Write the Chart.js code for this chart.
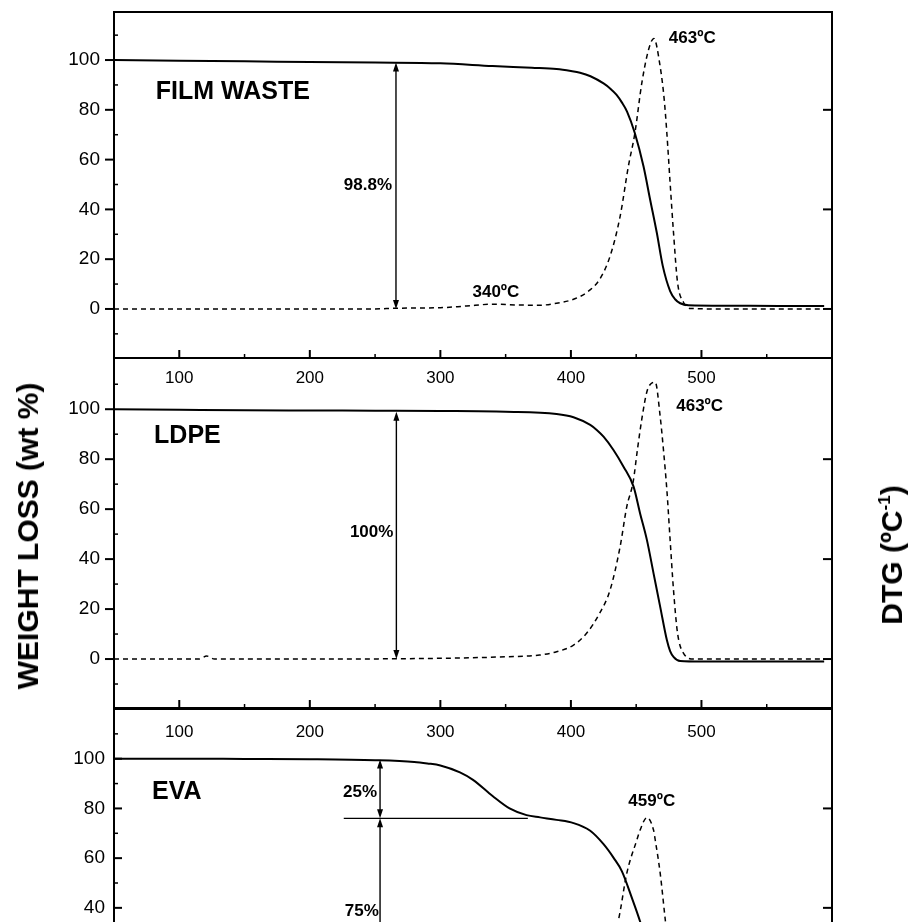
<!DOCTYPE html>
<html>
<head>
<meta charset="utf-8">
<title>TG / DTG</title>
<script src="https://cdn.jsdelivr.net/npm/chart.js@4.4.1/dist/chart.umd.min.js"></script>
<style>
  body { margin: 0; background: #fff; }
  #figure { position: relative; width: 910px; height: 922px; overflow: hidden; background: #fff; }
  #figure canvas { position: absolute; left: 0; }
  .axis-title {
    position: absolute;
    font: bold 30px 'Liberation Sans', Arial, sans-serif;
    line-height: 1;
    color: #000;
    white-space: nowrap;
    transform: translate(-50%, -50%) rotate(-90deg);
  }
  .axis-title sup { font-size: 17px; line-height: 0; vertical-align: 12px; }
</style>
</head>
<body>
<div id="figure">
  <canvas id="film" width="910" height="390" style="top:0"></canvas>
  <canvas id="ldpe" width="910" height="388" style="top:352px"></canvas>
  <canvas id="eva" width="910" height="386" style="top:703px"></canvas>
  <div class="axis-title" style="left:28px;top:536px">WEIGHT LOSS (wt %)</div>
  <div class="axis-title" style="left:892px;top:555px">DTG (ºC<sup>-1</sup>)</div>
</div>

<script>
const FONT = "'Liberation Sans', Arial, sans-serif";
Chart.defaults.font.family = FONT;
Chart.defaults.color = '#000';

// axes (temperature in ºC, weight in wt %)
const xTicks = [100, 200, 300, 400, 500];
const xMinorTicks = [150, 250, 350, 450, 550];
const yTicks = [0, 20, 40, 60, 80, 100];
const yMinorTicks = [-10, 10, 30, 50, 70, 90, 110];
const dtgTicks = [0, 40, 80];

// FILM WASTE
const filmTgT = [50, 100, 150, 200, 250, 300, 340, 370, 389, 400, 407, 415, 425, 430, 435, 439, 443, 449, 455.6, 460.7, 465.8, 470.4, 476, 480, 483.7, 490, 520, 560, 594];
const filmTg = [100, 99.7, 99.5, 99.2, 99.0, 98.7, 97.6, 96.9, 96.4, 95.6, 94.9, 93.5, 90.6, 88.6, 86.0, 83.0, 79.3, 70.6, 57.3, 43.9, 30.6, 17.2, 7.2, 3.8, 2.3, 1.5, 1.3, 1.2, 1.2];
const filmDtgT = [50, 150, 250, 266, 300, 320, 340, 360, 376, 389, 402, 412, 422, 430, 437.7, 444, 449, 454.3, 459.4, 463.5, 468.4, 471.5, 473.5, 476, 478.6, 481.7, 486.3, 491.4, 520, 594];
const filmDtg = [0, 0, 0, 0.3, 0.5, 1.2, 1.9, 1.6, 1.5, 2.3, 3.9, 6.6, 11.9, 21.2, 37.2, 57.3, 70.6, 90.7, 104, 108.7, 97.3, 84, 70.6, 50.6, 30.6, 10.6, 2.6, 0.2, 0, 0];

// LDPE
const ldpeTgT = [50, 100, 150, 200, 250, 300, 350, 389, 402, 414.8, 420, 425, 432.6, 440.3, 448, 453, 458.2, 463.3, 468.4, 473.5, 476, 478.6, 483.7, 500, 550, 594];
const ldpeTg = [100, 99.8, 99.6, 99.5, 99.4, 99.3, 99.0, 98.1, 96.8, 93.7, 91.6, 89, 83.7, 77, 69, 58.3, 47.7, 34.3, 20.9, 7.6, 3.2, 0.9, -0.8, -1.0, -1.0, -1.0];
const ldpeDtgT = [50, 115, 121, 127, 200, 300, 350, 376, 389, 402, 412, 422, 430, 437.7, 442.8, 447.7, 451, 454.3, 458.2, 461.5, 464.6, 468.4, 470.9, 473.5, 476, 478.6, 481.7, 486.3, 494, 540, 594];
const ldpeDtg = [0, 0, 1.2, 0, 0, 0.3, 0.9, 1.6, 2.9, 5.6, 10.3, 18.3, 27.6, 45, 61, 71, 84, 96, 107, 110.3, 110.8, 97, 83.7, 67.7, 47.7, 27.6, 10.3, 2.3, 0, 0, 0];

// EVA
const evaTgT = [50, 100, 150, 200, 250, 280, 290, 300, 315, 325, 340, 353, 366, 376.4, 389, 402, 414.8, 425, 432.6, 439, 446.7, 453, 460, 467, 475, 485, 500, 594];
const evaTg = [100, 100, 99.9, 99.8, 99.4, 98.7, 98.1, 97.3, 94.5, 91.5, 85.0, 80.0, 77.3, 76.4, 75.4, 74.1, 71.0, 65.6, 60.2, 54.8, 44.0, 34.5, 22, 10, 3, 1, 0.5, 0.5];
const evaDtgT = [50, 250, 300, 330, 345, 360, 380, 400, 420, 430, 436.4, 442.8, 450.5, 453, 458.2, 463.3, 464.6, 468.4, 472.3, 476, 480, 485, 495, 594];
const evaDtg = [0, 0, 3, 8, 10, 7, 3, 5, 14, 25, 35.1, 53.9, 67.3, 71.3, 76.3, 71.3, 67.3, 53.9, 35.1, 18, 6, 1, 0, 0];

function points(xs, ys) {
  return xs.map((x, i) => ({ x: x, y: ys[i] }));
}

function line(ctx, x1, y1, x2, y2) {
  ctx.beginPath();
  ctx.moveTo(x1, y1);
  ctx.lineTo(x2, y2);
  ctx.stroke();
}

function head(ctx, x, y, dir) {
  // dir -1 = pointing up, +1 = pointing down
  ctx.beginPath();
  ctx.moveTo(x, y);
  ctx.lineTo(x - 3, y - dir * 9);
  ctx.lineTo(x + 3, y - dir * 9);
  ctx.closePath();
  ctx.fill();
}

// no extra label padding, so the plot area lands where the layout says
function noPad(s) {
  s.paddingTop = 0;
  s.paddingBottom = 0;
  s.paddingLeft = 0;
  s.paddingRight = 0;
}

// frame, tick marks and annotations
const framePlugin = {
  id: 'frame',
  afterDraw(chart, args, opts) {
    const { ctx, chartArea: a, scales } = chart;
    const x = scales.x, y = scales.y, y2 = scales.y2;
    ctx.save();
    ctx.strokeStyle = '#000';
    ctx.fillStyle = '#000';

    ctx.lineWidth = 2;
    line(ctx, a.left - 1, a.top, a.right + 1, a.top);

    yTicks.forEach(v => {
      const p = y.getPixelForValue(v);
      if (opts.inward) line(ctx, a.left, p, a.left + 8, p);
      else line(ctx, a.left - 9, p, a.left, p);
    });
    xTicks.forEach(v => {
      const p = x.getPixelForValue(v);
      line(ctx, p, a.bottom - 8, p, a.bottom);
    });
    dtgTicks.forEach(v => {
      const p = y2.getPixelForValue(v);
      line(ctx, a.right - 9, p, a.right, p);
    });

    ctx.lineWidth = 1.5;
    yMinorTicks.forEach(v => {
      const p = y.getPixelForValue(v);
      line(ctx, a.left, p, a.left + 4, p);
    });
    xMinorTicks.forEach(v => {
      const p = x.getPixelForValue(v);
      line(ctx, p, a.bottom - 4, p, a.bottom);
    });

    // annotations in data coordinates
    const notes = opts.notes;
    ctx.lineWidth = 1.4;
    (notes.lines || []).forEach(l => {
      const py = y.getPixelForValue(l.y);
      line(ctx, x.getPixelForValue(l.x1), py, x.getPixelForValue(l.x2), py);
    });
    (notes.arrows || []).forEach(ar => {
      const px = x.getPixelForValue(ar.x);
      const top = y.getPixelForValue(ar.from);
      const bot = y.getPixelForValue(ar.to);
      line(ctx, px, top + 4, px, bot - 4);
      head(ctx, px, top, -1);
      head(ctx, px, bot, 1);
    });
    ctx.textBaseline = 'middle';
    (notes.texts || []).forEach(t => {
      ctx.font = 'bold ' + t.size + 'px ' + FONT;
      ctx.textAlign = t.align;
      ctx.fillText(t.text, x.getPixelForValue(t.x), y.getPixelForValue(t.y));
    });
    ctx.restore();
  }
};

function makePanel(id, cfg) {
  return new Chart(document.getElementById(id), {
    type: 'line',
    data: {
      datasets: [
        {
          label: 'DTG',
          data: cfg.dtg,
          yAxisID: 'y2',
          borderColor: '#000',
          borderWidth: 1.5,
          borderDash: [5, 4],
          pointRadius: 0,
          fill: false,
          cubicInterpolationMode: 'monotone'
        },
        {
          label: 'TG',
          data: cfg.tg,
          yAxisID: 'y',
          borderColor: '#000',
          borderWidth: 2,
          pointRadius: 0,
          fill: false,
          cubicInterpolationMode: 'monotone'
        }
      ]
    },
    options: {
      responsive: false,
      animation: false,
      devicePixelRatio: 1,
      layout: { padding: { top: cfg.padTop, left: 0, right: 0, bottom: 0 } },
      plugins: {
        legend: { display: false },
        tooltip: { enabled: false },
        frame: { inward: cfg.inward, notes: cfg.notes }
      },
      scales: {
        x: {
          type: 'linear',
          position: 'bottom',
          min: 50,
          max: 600,
          afterBuildTicks: s => { s.ticks = xTicks.map(v => ({ value: v })); },
          afterFit: s => { s.height = 32; noPad(s); },
          grid: { display: false, drawTicks: false },
          border: { display: true, color: '#000', width: 2 },
          ticks: { font: { size: 17 }, color: '#000', padding: cfg.xLabelPad, maxRotation: 0, autoSkip: false }
        },
        y: {
          type: 'linear',
          position: 'left',
          min: cfg.yMin,
          max: cfg.yMax,
          afterBuildTicks: s => { s.ticks = yTicks.map(v => ({ value: v })); },
          afterFit: s => { s.width = 114; noPad(s); },
          grid: { display: false, drawTicks: false },
          border: { display: true, color: '#000', width: 2 },
          ticks: { font: { size: 19 }, color: '#000', padding: cfg.labelPad }
        },
        y2: {
          type: 'linear',
          position: 'right',
          min: cfg.yMin,
          max: cfg.yMax,
          afterFit: s => { s.width = 78; noPad(s); },
          grid: { display: false, drawTicks: false },
          border: { display: true, color: '#000', width: 2 },
          ticks: { display: false }
        }
      }
    },
    plugins: [framePlugin]
  });
}

makePanel('film', {
  tg: points(filmTgT, filmTg),
  dtg: points(filmDtgT, filmDtg),
  yMin: -19.7, yMax: 119.3, padTop: 12, labelPad: 14, xLabelPad: 10, inward: false,
  notes: {
    texts: [
      { text: 'FILM WASTE', x: 82, y: 87, size: 25, align: 'left' },
      { text: '98.8%', x: 263, y: 49.8, size: 17, align: 'right' },
      { text: '463ºC', x: 475, y: 108.8, size: 17, align: 'left' },
      { text: '340ºC', x: 324.6, y: 6.6, size: 17, align: 'left' }
    ],
    arrows: [{ x: 266, from: 99, to: 0 }]
  }
});

makePanel('ldpe', {
  tg: points(ldpeTgT, ldpeTg),
  dtg: points(ldpeDtgT, ldpeDtg),
  yMin: -19.6, yMax: 120.5, padTop: 6, labelPad: 14, xLabelPad: 14, inward: false,
  notes: {
    texts: [
      { text: 'LDPE', x: 80.7, y: 89.3, size: 25, align: 'left' },
      { text: '100%', x: 264, y: 50.6, size: 17, align: 'right' },
      { text: '463ºC', x: 480.7, y: 101, size: 17, align: 'left' }
    ],
    arrows: [{ x: 266.3, from: 99, to: 0 }]
  }
});

makePanel('eva', {
  tg: points(evaTgT, evaTg),
  dtg: points(evaDtgT, evaDtg),
  yMin: -20, yMax: 120, padTop: 6, labelPad: 9, xLabelPad: 10, inward: true,
  notes: {
    texts: [
      { text: 'EVA', x: 79.1, y: 86.7, size: 25, align: 'left' },
      { text: '25%', x: 251.5, y: 86.5, size: 17, align: 'right' },
      { text: '75%', x: 252.8, y: 38.5, size: 17, align: 'right' },
      { text: '459ºC', x: 444, y: 83, size: 17, align: 'left' }
    ],
    lines: [{ x1: 226, x2: 367, y: 76 }],
    arrows: [
      { x: 253.8, from: 99.7, to: 76 },
      { x: 253.8, from: 76, to: 0 }
    ]
  }
});
</script>
</body>
</html>
